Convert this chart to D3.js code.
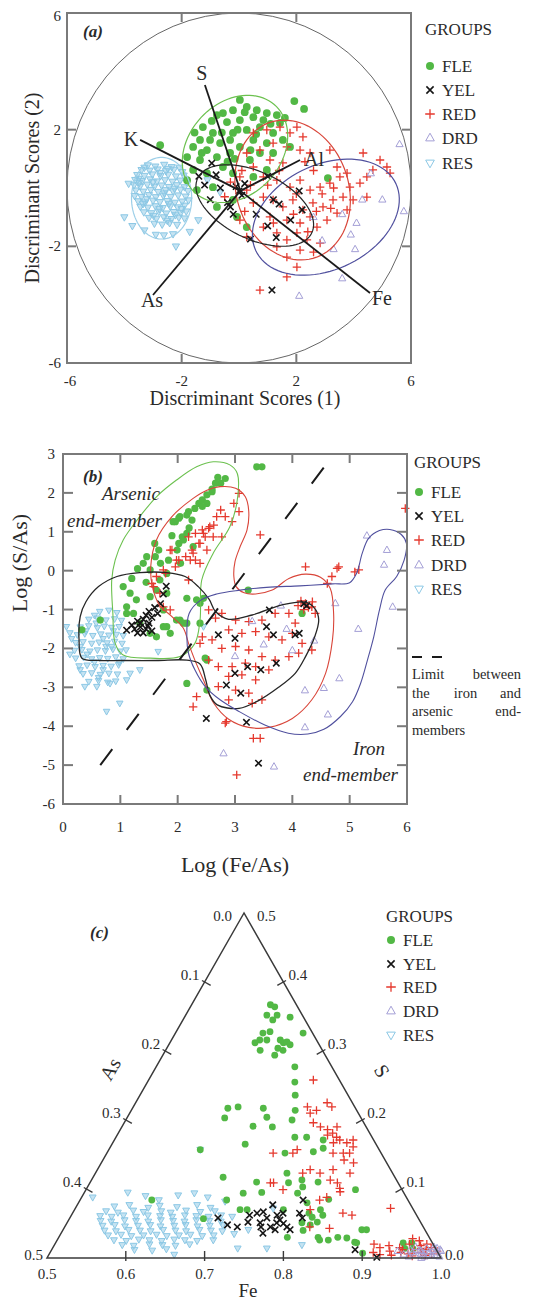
<!DOCTYPE html>
<html><head><meta charset="utf-8">
<script src="https://cdn.jsdelivr.net/npm/d3@7"></script>
<style>
body{margin:0;background:#fff}
svg{display:block}
text{font-family:"Liberation Serif","Times New Roman",serif;fill:#2a2a2a}
</style>
</head><body>
<svg id="fig" width="534" height="1303" font-family="Liberation Serif, Times New Roman, serif"></svg>
<script>
// ---------- groups ----------
const groups = ["FLE", "YEL", "RED", "DRD", "RES"];

// ---------- panel (a): discriminant scores ----------
const aTicks = [-6, -2, 2, 6];
const aRES = [[-3.18,0.78],[-2.92,0.74],[-2.61,0.8],[-2.35,0.72],[-2.08,0.7],
[-3.4,0.62],[-3.12,0.6],[-2.84,0.64],[-2.55,0.58],[-2.27,0.63],[-1.98,0.55],
[-3.55,0.45],[-3.3,0.42],[-3.02,0.47],[-2.74,0.41],[-2.47,0.46],[-2.2,0.4],[-1.93,0.43],
[-3.62,0.28],[-3.38,0.24],[-3.1,0.3],[-2.86,0.23],[-2.58,0.27],[-2.32,0.22],[-2.05,0.26],[-1.82,0.2],
[-3.66,0.1],[-3.45,0.06],[-3.2,0.12],[-2.95,0.05],[-2.7,0.09],[-2.44,0.04],[-2.17,0.1],[-1.9,0.03],
[-3.6,-0.08],[-3.34,-0.12],[-3.08,-0.06],[-2.82,-0.13],[-2.56,-0.07],[-2.3,-0.11],[-2.04,-0.05],[-1.78,-0.1],
[-3.64,-0.27],[-3.4,-0.3],[-3.14,-0.24],[-2.9,-0.31],[-2.64,-0.26],[-2.38,-0.3],[-2.12,-0.25],[-1.86,-0.29],
[-3.52,-0.45],[-3.27,-0.49],[-3.0,-0.43],[-2.76,-0.48],[-2.5,-0.44],[-2.24,-0.5],[-1.98,-0.46],[-1.76,-0.42],
[-3.44,-0.64],[-3.18,-0.67],[-2.92,-0.62],[-2.66,-0.68],[-2.4,-0.63],[-2.14,-0.66],[-1.9,-0.6],
[-3.32,-0.83],[-3.06,-0.86],[-2.8,-0.81],[-2.54,-0.87],[-2.28,-0.82],[-2.03,-0.85],[-1.84,-0.8],
[-3.14,-1.02],[-2.88,-1.05],[-2.62,-1.0],[-2.36,-1.06],[-2.1,-1.01],[-1.9,-1.04],
[-2.95,-1.22],[-2.68,-1.25],[-2.42,-1.2],[-2.16,-1.26],
[-3.3,0.7],[-2.48,0.66],[-3.48,0.18],[-2.25,-0.02],[-3.22,-0.38],[-2.45,-0.55],[-2.98,-0.95],[-2.22,-0.93],
[-2.75,0.52],[-3.0,0.2],[-2.6,-0.18],[-3.35,-0.55],[-2.0,-0.72],[-2.78,-0.72],[-2.5,-1.12],[-3.5,0.32],
[-4.0,-1.0],[-3.72,-1.3],[-2.9,-1.6],[-2.62,-1.62],[-2.3,-1.58],[-2.2,-2.0],[-1.72,-1.5],[-1.42,-1.1],
[-3.85,0.15],[-1.1,0.27],[-0.66,-0.14],[-3.3,-1.45]];
const aFLE = [[1.93,2.98],[2.27,2.71],[-1.26,2.09],[-0.77,2.5],[-0.21,2.67],[0.27,2.78],[0.62,2.67],
[0.97,2.57],[1.32,2.5],[0.5,2.43],[0.03,2.33],[-0.42,2.26],[-0.91,1.89],[-1.36,1.65],[-1.6,1.41],
[-1.12,1.3],[-0.66,1.54],[-0.21,1.89],[0.27,1.99],[0.73,2.09],[1.19,1.89],[1.53,1.65],[0.97,1.54],
[0.5,1.65],[0.03,1.41],[-0.31,1.2],[-0.77,1.06],[-1.36,0.96],[-1.6,0.62],[-1.12,0.51],[-1.81,0.27],
[-1.47,-0.07],[-0.56,0.72],[-0.21,0.51],[0.38,0.96],[0.73,1.2],[1.19,1.2],[0.5,0.38],[0.97,0.62],
[-0.21,-0.41],[0.27,-1.34],[-0.07,-0.99],[-0.77,-0.65],[-2.75,1.47],[3.1,0.34],[-0.56,2.57],
[0.85,2.33],[-0.31,1.65],[-1.01,1.65],[-1.81,1.06],[-0.91,0.03],[1.43,2.23],[0.03,3.02],[1.78,1.41],
[-0.05,2.0],[0.6,1.85],[-0.6,1.9],[1.1,2.2],[-1.3,1.2],[-0.4,0.9],[0.2,2.6],[-0.95,2.3],[1.6,2.4],
[-1.55,1.9],[0.4,1.3],[-0.15,1.0]];
const aRED = [[0.5,1.89],[0.97,1.99],[1.43,2.09],[1.78,1.89],[2.23,1.75],[1.19,1.54],[1.67,1.41],
[2.13,1.3],[0.73,1.3],[0.27,1.2],[1.08,0.96],[1.53,0.86],[2.48,1.2],[0.5,0.72],[0.03,0.38],[0.85,0.38],
[1.32,0.27],[1.78,0.03],[2.13,0.27],[2.48,-0.07],[2.83,0.03],[3.17,0.17],[3.52,0.38],[3.77,0.51],
[3.87,0.03],[3.63,-0.31],[3.28,-0.41],[2.93,-0.65],[2.58,-0.51],[2.23,-0.75],[1.88,-0.41],[1.53,-0.65],
[1.19,-0.41],[0.85,-0.31],[0.5,-0.51],[0.27,-0.07],[1.08,-0.99],[1.67,-1.1],[2.13,-1.2],[2.48,-0.99],
[2.72,-1.34],[2.02,-1.54],[2.37,-1.78],[1.67,-1.78],[1.32,-1.54],[0.85,-1.34],[3.07,-1.1],[3.42,-0.86],
[2.83,-1.89],[2.13,-2.13],[1.67,-2.37],[1.32,-2.02],[2.02,-2.71],[1.67,-3.05],[0.73,-3.5],[0.27,-1.68],
[0.03,-1.1],[4.33,1.2],[4.92,0.96],[5.16,0.72],[4.67,0.62],[4.46,0.38],[5.27,0.51],[4.22,0.17],
[3.98,-0.41],[3.77,-0.75],[4.46,-0.31],[3.17,1.3],[3.42,0.72],[2.02,2.09],[-0.3,0.2],[0.1,0.6],
[-0.5,-0.3],[0.4,0.1],[0.2,-0.8],[2.6,0.6],[2.9,-0.2],[1.9,-0.9],[2.4,-1.5],[1.4,0.6],
[2.3,0.9],[1.2,-1.2],[2.7,-0.8],[3.2,-0.7],[2.0,-0.2],[1.0,0.1],[2.6,-2.2],[3.3,0.0]];
const aYEL = [[-0.95,0.85],[-1.4,0.4],[-1.0,-0.4],[0.0,-0.1],[-0.3,-0.65],[-0.2,-0.9],[0.4,-1.75],
[1.3,-1.7],[1.2,-0.4],[2.1,-0.1],[2.2,-0.75],[1.8,-1.1],[1.0,-1.3],[1.4,-0.55],[1.15,-3.5],[-0.65,0.0],
[1.0,0.4],[-0.1,0.05],[0.1,-0.25],[-0.4,-0.5],[0.2,0.15],[-1.2,0.1],[0.6,-0.9],[-0.8,0.45]];
const aDRD = [[5.6,1.5],[5.0,-0.4],[5.75,-0.8],[4.1,-1.2],[4.05,-2.1],[3.6,-0.9],[4.3,-0.4],[2.1,-3.7],
[4.6,0.5],[2.6,-1.0],[3.6,-3.1],[3.3,-2.1],[3.9,-1.6],[2.9,-1.8]];
// group ellipses: centre, semi-axes and rotation (degrees)
const aEllipseGroup = ["RES", "FLE", "RED", "DRD", "YEL"];
const aEllipseCx = [-2.7, -0.14, 1.87, 3.03, 0.55];
const aEllipseCy = [-0.35, 1.34, -0.07, -1.0, -0.6];
const aEllipseA = [1.05, 2.05, 2.45, 2.7, 2.2];
const aEllipseB = [1.4, 1.6, 1.95, 1.8, 1.15];
const aEllipseRot = [0, 45, -70, 25, -25];
// variable vectors
const aVecOrigin = [0.05, -0.1];
const aVecName = ["S", "K", "Al", "As", "Fe"];
const aVecEnd = [[-1.19, 3.53], [-3.45, 1.65], [2.13, 0.96], [-3.0, -3.67], [4.57, -3.6]];

// ---------- panel (b): log ratios ----------
const bXTicks = [0, 1, 2, 3, 4, 5, 6];
const bYTicks = [3, 2, 1, 0, -1, -2, -3, -4, -5, -6];
const bRES = [[0.64,-1.05],[0.8,-1.02],[0.94,-1.08],
[0.45,-1.25],[0.6,-1.22],[0.75,-1.27],[0.9,-1.24],[1.02,-1.28],
[0.3,-1.45],[0.45,-1.42],[0.6,-1.47],[0.72,-1.43],[0.85,-1.46],[0.98,-1.44],
[0.25,-1.65],[0.38,-1.62],[0.52,-1.67],[0.66,-1.63],[0.8,-1.66],[0.93,-1.64],[1.05,-1.67],
[0.22,-1.85],[0.35,-1.83],[0.5,-1.87],[0.63,-1.84],[0.77,-1.86],[0.9,-1.82],[1.03,-1.87],
[0.2,-2.05],[0.33,-2.03],[0.47,-2.07],[0.6,-2.04],[0.74,-2.06],[0.87,-2.02],[1.0,-2.07],[1.1,-2.04],
[0.22,-2.25],[0.36,-2.23],[0.5,-2.27],[0.64,-2.24],[0.78,-2.26],[0.92,-2.22],[1.05,-2.27],
[0.28,-2.45],[0.42,-2.43],[0.56,-2.47],[0.7,-2.44],[0.84,-2.46],[0.97,-2.42],
[0.35,-2.65],[0.5,-2.63],[0.65,-2.67],[0.8,-2.64],[0.95,-2.66],
[0.45,-2.85],[0.62,-2.83],[0.78,-2.87],[0.92,-2.84],
[0.55,-1.15],[0.4,-1.55],[0.3,-1.95],[0.42,-2.15],[0.55,-2.35],[0.7,-2.55],[0.85,-1.95],[0.7,-1.75],
[0.15,-1.75],[0.12,-2.15],[0.58,-1.35],[0.88,-1.55],[0.98,-2.35],[0.62,-2.75],[0.3,-2.55],[0.75,-1.95],
[0.06,-1.44],[0.12,-1.6],[0.38,-2.98],[0.59,-2.98],[0.82,-2.9],[1.11,-2.81],[1.34,-2.55],[0.99,-3.41],
[0.76,-3.62],[1.17,-2.64],[1.66,-2.08],[2.45,-1.44]];
const bFLE = [[3.38,2.67],[3.47,2.67],[2.83,2.37],[2.75,2.25],[2.66,2.25],[2.6,2.03],[2.51,1.95],
[2.43,1.82],[2.37,1.73],[2.51,1.73],[2.43,1.65],[2.19,1.52],[2.16,1.43],[2.02,1.35],[1.96,1.26],
[2.25,1.3],[2.08,0.87],[2.02,0.7],[1.99,0.53],[1.67,0.53],[1.61,0.36],[1.7,0.19],[1.84,0.27],
[2.05,0.19],[2.04,1.39],[1.92,1.26],[2.16,0.96],[2.1,0.79],[2.27,0.62],[1.46,0.36],[1.4,0.19],
[1.52,0.02],[1.81,-0.07],[1.69,-0.24],[1.63,-0.5],[1.81,-0.58],[1.52,-0.67],[2.16,-0.71],[2.39,-0.84],
[1.75,-1.01],[2.04,-1.27],[1.81,-1.44],[2.16,-1.35],[1.87,-1.61],[2.39,-1.35],[1.11,-1.1],[0.65,-1.27],
[1.05,-0.41],[1.17,-0.58],[1.28,-0.75],[1.11,-0.93],[1.23,-1.1],[1.34,-1.35],[1.52,-1.61],[1.63,-1.7],
[1.75,-1.44],[1.98,-1.27],[2.1,-1.35],[2.33,-0.75],[2.51,-2.3],[2.16,-2.9],[2.51,-3.07],[3.23,-0.5],
[4.17,-1.1],[2.45,-0.71],[2.48,-2.25],[0.33,-1.52],[2.3,1.6],[2.6,2.1],[2.7,2.4],[2.2,1.1],[1.9,0.9],
[1.6,0.7],[1.3,0.05],[1.2,-0.2],[1.45,-0.3]];
const bRED = [[3.07,1.99],[2.98,1.73],[3.07,1.52],[2.75,1.56],[2.83,1.39],[2.95,1.26],[2.63,1.17],
[2.77,0.87],[2.54,1.09],[2.43,1.05],[2.48,0.87],[2.31,0.96],[2.19,0.87],[2.37,0.7],[2.25,0.53],
[2.14,0.36],[2.31,0.27],[2.02,0.27],[1.9,0.53],[1.96,0.1],[2.19,-0.24],[1.79,-0.07],[1.55,-0.33],
[3.44,0.92],[4.23,0.1],[4.78,0.06],[4.61,-0.33],[4.69,-0.15],[2.68,1.39],[2.56,1.13],[2.45,0.96],
[2.62,0.87],[2.39,0.7],[2.51,0.53],[2.27,0.45],[2.22,0.27],[2.39,0.19],[1.98,0.27],[1.87,0.53],
[1.75,0.02],[1.63,-0.15],[1.69,-0.58],[1.75,-0.93],[1.58,-0.41],[1.87,-1.01],[2.39,-1.87],[2.33,-3.24],
[5.97,1.6],[5.09,-0.03],[3.03,-5.25],[3.32,-4.31],[3.44,-4.31],[2.27,-3.5],[2.85,-3.88],
[4.81,0.1],[5.16,0.02],[4.23,-0.84],[4.34,-0.93],[4.4,-1.1],[4.05,-1.35],[4.0,-1.61],[4.17,-1.87],
[4.34,-2.04],[3.94,-1.1],[3.7,-1.1],[3.47,-1.27],[3.24,-1.31],[3.01,-1.27],[2.77,-1.1],[2.66,-1.22],
[2.89,-1.52],[3.12,-1.61],[3.36,-1.57],[3.59,-1.7],[3.82,-1.78],[2.6,-1.78],[2.77,-2.0],[3.01,-1.95],
[3.24,-2.04],[3.47,-2.21],[3.7,-2.3],[3.94,-2.21],[4.11,-2.12],[2.54,-2.3],[2.71,-2.47],[2.95,-2.47],
[3.18,-2.38],[3.36,-2.47],[3.59,-2.55],[2.89,-2.72],[3.12,-2.68],[3.36,-2.81],[2.71,-2.98],[3.01,-3.07],
[3.24,-3.15],[3.47,-3.32],[2.89,-3.32],[3.3,-3.41],[2.83,-3.92],[2.43,-1.7],[2.54,-1.01],
[4.15,-0.78],[4.28,-0.95],[4.2,-1.0],[4.1,-0.9],[4.35,-0.8]];
const bYEL = [[1.3,-1.3],[1.4,-1.25],[1.5,-1.35],[1.35,-1.45],[1.45,-1.5],[1.55,-1.2],[1.25,-1.5],
[1.4,-1.6],[1.5,-1.05],[1.6,-0.95],[1.45,-1.15],[1.3,-1.6],[1.2,-1.4],[1.55,-1.55],[1.65,-1.1],
[1.35,-1.35],[1.48,-1.42],[1.7,-0.85],[1.75,-0.6],[1.8,-0.4],[1.11,-1.53],[2.71,-1.65],[3.0,-1.74],
[3.6,-1.01],[3.55,-1.44],[3.67,-1.65],[4.05,-1.65],[4.12,-1.61],[4.25,-0.9],[3.0,-2.64],[3.22,-2.47],
[3.45,-2.55],[3.72,-2.38],[2.85,-2.94],[3.1,-3.15],[2.5,-3.8],[3.2,-3.9],[3.41,-4.95],[4.2,-0.85]];
const bDRD = [[5.65,0.53],[5.6,0.15],[5.75,-0.93],[5.15,-1.5],[4.82,-2.77],[4.55,-3.02],[4.22,-3.08],
[4.62,-3.7],[4.22,-4.03],[2.8,-4.7],[3.68,-5.04],[4.75,-0.84],[4.38,-1.8],[5.3,0.9],[3.3,-1.3],
[3.9,-1.5],[4.0,-2.05],[3.5,-1.9],[3.0,-2.2],[3.8,-0.9]];
// group contours in (Fe/As, S/As) log space
const bContourFLE = [[0.85,-0.24],[0.87,-1.1],[0.91,-1.87],[1.05,-2.17],[1.52,-2.25],[2.04,-2.21],
[2.3,-1.87],[2.39,-1.27],[2.42,-0.24],[2.62,0.45],[2.91,1.13],[3.04,1.82],[3.04,2.5],[2.91,2.72],
[2.62,2.8],[2.33,2.67],[1.98,2.33],[1.63,1.9],[1.34,1.39],[1.05,0.79],[0.91,0.27]];
const bContourRED = [[2.74,2.16],[3.01,2.12],[3.18,1.9],[3.24,1.52],[3.21,1.05],[3.09,0.62],[3.0,0.23],
[2.98,-0.15],[3.02,-0.41],[3.16,-0.57],[3.36,-0.6],[3.65,-0.5],[3.94,-0.2],[4.23,-0.09],[4.49,-0.17],
[4.66,-0.45],[4.72,-1.1],[4.7,-1.78],[4.58,-2.64],[4.34,-3.32],[4.0,-3.8],[3.59,-4.03],[3.24,-4.03],
[2.89,-3.82],[2.63,-3.41],[2.45,-2.81],[2.3,-2.3],[2.19,-1.87],[2.1,-1.48],[1.9,-1.18],[1.68,-0.88],
[1.56,-0.41],[1.53,0.1],[1.63,0.79],[1.9,1.39],[2.27,1.86],[2.51,2.07]];
const bContourYEL = [[0.3,-1.18],[0.28,-1.78],[0.33,-2.25],[0.65,-2.31],[1.05,-2.31],[1.63,-2.31],
[2.16,-2.3],[2.39,-2.4],[2.49,-2.81],[2.56,-3.2],[2.69,-3.45],[3.07,-3.54],[3.41,-3.34],[3.76,-3.0],
[4.05,-2.64],[4.23,-2.21],[4.39,-1.7],[4.46,-1.27],[4.4,-0.99],[4.23,-0.81],[3.82,-0.88],[3.3,-1.14],
[2.89,-1.25],[2.66,-1.05],[2.55,-0.74],[2.36,-0.41],[2.13,-0.15],[1.81,-0.05],[1.34,-0.05],
[0.94,-0.15],[0.62,-0.41],[0.4,-0.8]];
const bContourDRD = [[2.16,-1.7],[2.2,-1.1],[2.39,-0.77],[2.68,-0.6],[3.09,-0.5],[3.55,-0.43],
[4.13,-0.39],[4.7,-0.34],[5.0,-0.31],[5.12,-0.07],[5.22,0.45],[5.33,0.83],[5.52,1.03],[5.7,1.06],
[5.9,0.93],[5.99,0.7],[5.95,0.27],[5.82,-0.15],[5.62,-0.5],[5.52,-1.01],[5.42,-1.7],[5.31,-2.3],
[5.19,-2.9],[5.05,-3.37],[4.84,-3.75],[4.55,-4.08],[4.27,-4.2],[3.93,-4.18],[3.52,-3.97],[3.07,-3.62],
[2.74,-3.32],[2.48,-2.98],[2.3,-2.55],[2.19,-2.13]];
// limit between the iron and arsenic end-members
const bLimit = [[0.65, -5.0], [4.6, 2.75]];

// ---------- panel (c): Fe-As-S ternary, stored as [Fe, S] (As = 1 - Fe - S) ----------
const cFeTicks = [0.5, 0.6, 0.7, 0.8, 0.9, 1.0];
const cAsTicks = [0.0, 0.1, 0.2, 0.3, 0.4, 0.5];
const cSTicks = [0.5, 0.4, 0.3, 0.2, 0.1, 0.0];
const cRES = [[0.548,0.075],[0.566,0.077],[0.592,0.073],[0.605,0.076],[0.628,0.074],[0.652,0.077],[0.671,0.073],
[0.541,0.068],[0.557,0.066],[0.575,0.069],[0.589,0.067],[0.611,0.068],[0.624,0.066],[0.642,0.069],[0.661,0.067],[0.679,0.068],
[0.537,0.061],[0.552,0.06],[0.566,0.062],[0.583,0.06],[0.597,0.062],[0.613,0.061],[0.629,0.06],[0.644,0.062],[0.659,0.061],[0.675,0.06],[0.69,0.062],
[0.541,0.054],[0.555,0.053],[0.571,0.055],[0.586,0.054],[0.602,0.053],[0.617,0.055],[0.633,0.054],[0.648,0.053],[0.662,0.055],[0.679,0.054],[0.694,0.053],
[0.547,0.047],[0.562,0.048],[0.576,0.046],[0.592,0.047],[0.607,0.048],[0.621,0.046],[0.638,0.047],[0.652,0.048],[0.668,0.046],[0.683,0.047],[0.699,0.048],
[0.553,0.04],[0.568,0.039],[0.583,0.041],[0.598,0.04],[0.612,0.039],[0.627,0.041],[0.643,0.04],[0.657,0.039],[0.673,0.041],[0.688,0.04],[0.703,0.039],
[0.561,0.033],[0.577,0.034],[0.591,0.032],[0.606,0.033],[0.622,0.034],[0.636,0.032],[0.651,0.033],[0.665,0.034],[0.681,0.032],[0.695,0.033],
[0.572,0.026],[0.588,0.025],[0.603,0.027],[0.617,0.026],[0.633,0.025],[0.648,0.027],[0.662,0.026],[0.678,0.025],
[0.586,0.019],[0.601,0.018],[0.62,0.02],[0.637,0.019],[0.654,0.018],[0.671,0.02],
[0.605,0.012],[0.628,0.011],[0.645,0.013],
[0.514,0.088],[0.621,0.091],[0.616,0.157],[0.735,0.014],[0.772,0.014],[0.814,0.019],[0.751,0.072],
[0.735,0.041],[0.698,0.026],[0.659,0.005],[0.555,0.095],[0.58,0.09],[0.64,0.094],[0.66,0.088],
[0.705,0.06],[0.72,0.035],[0.6,0.084],[0.685,0.082]];
const cFLE = [[0.6,0.367],[0.607,0.364],[0.603,0.352],[0.616,0.352],[0.614,0.345],[0.634,0.349],
[0.662,0.326],[0.611,0.326],[0.619,0.328],[0.612,0.316],[0.608,0.312],[0.621,0.316],[0.638,0.316],
[0.644,0.312],[0.648,0.313],[0.654,0.309],[0.641,0.304],[0.649,0.301],[0.62,0.301],[0.642,0.294],
[0.676,0.277],[0.687,0.255],[0.697,0.236],[0.708,0.214],[0.711,0.2],[0.621,0.217],[0.633,0.219],
[0.624,0.203],[0.666,0.217],[0.677,0.204],[0.691,0.19],[0.666,0.191],[0.669,0.165],[0.727,0.175],
[0.742,0.175],[0.726,0.152],[0.761,0.154],[0.765,0.171],[0.771,0.159],[0.665,0.117],[0.711,0.11],
[0.702,0.094],[0.71,0.07],[0.686,0.084],[0.719,0.07],[0.743,0.123],[0.752,0.109],[0.767,0.113],
[0.773,0.103],[0.789,0.11],[0.771,0.094],[0.79,0.08],[0.812,0.07],[0.819,0.062],[0.807,0.059],
[0.817,0.052],[0.81,0.048],[0.829,0.03],[0.844,0.026],[0.854,0.03],[0.866,0.029],[0.879,0.023],
[0.879,0.041],[0.885,0.041],[0.842,0.099],[0.952,0.022],[0.958,0.013],[0.765,0.07],[0.798,0.051],
[0.833,0.026],[0.897,0.007],[0.947,0.014],[0.591,0.084],[0.67,0.057],[0.616,0.157],[0.882,0.022],
[0.941,0.022],[0.8,0.065],[0.805,0.04],[0.79,0.03],[0.815,0.085],[0.725,0.095]];
const cRED = [[0.709,0.258],[0.721,0.219],[0.735,0.214],[0.743,0.225],[0.752,0.219],[0.729,0.21],
[0.74,0.196],[0.752,0.19],[0.763,0.186],[0.772,0.181],[0.773,0.19],[0.78,0.175],[0.786,0.171],
[0.797,0.167],[0.803,0.171],[0.808,0.161],[0.808,0.152],[0.78,0.167],[0.787,0.152],[0.8,0.152],
[0.739,0.157],[0.711,0.152],[0.736,0.152],[0.729,0.109],[0.75,0.099],[0.763,0.123],[0.77,0.128],
[0.785,0.123],[0.803,0.113],[0.799,0.128],[0.814,0.109],[0.824,0.096],[0.811,0.088],[0.82,0.138],
[0.806,0.142],[0.823,0.123],[0.767,0.178],[0.804,0.084],[0.811,0.045],[0.799,0.07],[0.733,0.109],
[0.837,0.043],[0.821,0.101],[0.9,0.072],[0.856,0.062],[0.843,0.065],
[0.905,0.02],[0.91,0.008],[0.915,0.015],[0.92,0.005],[0.925,0.018],[0.93,0.01],[0.935,0.004],
[0.94,0.015],[0.945,0.008],[0.95,0.02],[0.955,0.006],[0.96,0.012],[0.962,0.003],[0.965,0.018],
[0.97,0.008],[0.975,0.012],[0.978,0.004],[0.98,0.015],[0.985,0.006],[0.99,0.01],[0.95,0.028],
[0.96,0.025],[0.945,0.012],[0.968,0.014],[0.972,0.02]];
const cYEL = [[0.688,0.058],[0.705,0.048],[0.719,0.045],[0.726,0.062],[0.734,0.065],[0.741,0.067],
[0.75,0.058],[0.745,0.051],[0.749,0.045],[0.761,0.045],[0.748,0.077],[0.761,0.062],[0.768,0.055],
[0.769,0.041],[0.766,0.051],[0.767,0.065],[0.782,0.045],[0.788,0.065],[0.783,0.084],[0.795,0.058],
[0.788,0.041],[0.885,0.012],[0.918,0.001],[0.729,0.052],[0.756,0.036],[0.775,0.05]];
const cDRD = [[0.94,0.01],[0.95,0.005],[0.955,0.012],[0.96,0.008],[0.965,0.004],[0.97,0.01],
[0.972,0.006],[0.975,0.014],[0.978,0.002],[0.98,0.009],[0.982,0.005],[0.985,0.012],[0.987,0.003],
[0.99,0.008],[0.992,0.004],[0.995,0.01],[0.997,0.002],[0.983,0.016],[0.975,0.0],[0.96,0.016],
[0.968,0.011],[0.988,0.014],[0.993,0.012],[0.958,0.002]];

// ---------- styles ----------
const color = {FLE: "#52b845", YEL: "#151515", RED: "#e5392e", DRD: "#a49fd6", RES: "#8cc8e5"};
const lineColor = {FLE: "#6cc14f", YEL: "#262626", RED: "#d9463a", DRD: "#50509e", RES: "#9ccfe8"};
const frameColor = "#7a7a7a";

function markPath(group, s) {
  if (group === "FLE") return d3.symbol(d3.symbolCircle, Math.PI * s * s)();
  if (group === "YEL") return `M${-s},${-s}L${s},${s}M${-s},${s}L${s},${-s}`;
  if (group === "RED") return `M${-s},0H${s}M0,${-s}V${s}`;
  if (group === "DRD") return `M0,${-s}L${s * 0.9},${s * 0.6}L${-s * 0.9},${s * 0.6}Z`;
  return `M0,${s}L${s * 0.9},${-s * 0.6}L${-s * 0.9},${-s * 0.6}Z`;
}
function styleMark(sel, group, filled) {
  if (group === "FLE") return sel.attr("fill", color.FLE).attr("stroke", "none");
  sel.attr("fill", "none").attr("stroke", color[group])
    .attr("stroke-width", group === "YEL" ? 1.6 : group === "RED" ? 1.3 : 1);
  // dense residue clouds read as a light wash
  if (group === "RES" && filled) sel.attr("fill", color.RES).attr("fill-opacity", 0.5);
  return sel;
}
const markSize = {FLE: 3.6, YEL: 3.2, RED: 4.2, DRD: 4, RES: 3.8};

function drawPoints(g, data, group, px, py, scale = 1) {
  const sel = g.append("g").selectAll("path").data(data).join("path")
    .attr("transform", d => `translate(${px(d)},${py(d)})`)
    .attr("d", markPath(group, markSize[group] * scale));
  styleMark(sel, group, true);
}

function legend(g, x, yTitle, yItems) {
  g.append("text").attr("x", x).attr("y", yTitle).attr("font-size", 17).text("GROUPS");
  groups.forEach((grp, i) => {
    const yy = yItems[i];
    const m = g.append("path").attr("transform", `translate(${x + 5},${yy})`)
      .attr("d", markPath(grp, grp === "FLE" ? 4 : grp === "YEL" ? 3.6 : 4.8));
    styleMark(m, grp, false);
    g.append("text").attr("x", x + 17).attr("y", yy + 5.5).attr("font-size", 17).text(grp);
  });
}

const svg = d3.select("#fig");

// ================= panel (a) =================
{
  const g = svg.append("g");
  const x = d3.scaleLinear().domain([-6, 6]).range([67, 411]);
  const y = d3.scaleLinear().domain([-6, 6]).range([363, 13]);

  // circle of radius 6
  g.append("ellipse").attr("cx", x(0)).attr("cy", y(0))
    .attr("rx", x(6) - x(0)).attr("ry", y(0) - y(6))
    .attr("fill", "none").attr("stroke", "#555").attr("stroke-width", 0.9);

  const px = d => x(d[0]), py = d => y(d[1]);
  drawPoints(g, aRES, "RES", px, py, 1.05);
  drawPoints(g, aFLE, "FLE", px, py, 1.08);
  drawPoints(g, aRED, "RED", px, py);
  drawPoints(g, aDRD, "DRD", px, py);
  drawPoints(g, aYEL, "YEL", px, py);

  // group ellipses
  const line = d3.line().x(p => x(p[0])).y(p => y(p[1])).curve(d3.curveLinearClosed);
  aEllipseGroup.forEach((grp, i) => {
    const th = aEllipseRot[i] * Math.PI / 180;
    const pts = d3.range(0, 360, 4).map(deg => {
      const t = deg * Math.PI / 180;
      const ex = aEllipseA[i] * Math.cos(t), ey = aEllipseB[i] * Math.sin(t);
      return [aEllipseCx[i] + ex * Math.cos(th) - ey * Math.sin(th),
              aEllipseCy[i] + ex * Math.sin(th) + ey * Math.cos(th)];
    });
    g.append("path").attr("d", line(pts)).attr("fill", "none")
      .attr("stroke", lineColor[grp]).attr("stroke-width", 1.2);
  });

  // variable vectors
  aVecName.forEach((name, i) => {
    g.append("line").attr("x1", x(aVecOrigin[0])).attr("y1", y(aVecOrigin[1]))
      .attr("x2", x(aVecEnd[i][0])).attr("y2", y(aVecEnd[i][1]))
      .attr("stroke", "#1a1a1a").attr("stroke-width", 1.8);
  });
  const vecLabelPos = {S: [-3, -5, "middle"], K: [-2, 6, "end"], Al: [4, 6, "start"], As: [-1, 12, "middle"], Fe: [12, 12, "middle"]};
  aVecName.forEach((name, i) => {
    const o = vecLabelPos[name];
    g.append("text").attr("x", x(aVecEnd[i][0]) + o[0]).attr("y", y(aVecEnd[i][1]) + o[1])
      .attr("text-anchor", o[2]).attr("font-size", 20).text(name);
  });

  // frame and ticks
  g.append("rect").attr("x", x(-6)).attr("y", y(6)).attr("width", x(6) - x(-6)).attr("height", y(-6) - y(6))
    .attr("fill", "none").attr("stroke", frameColor).attr("stroke-width", 2);
  [-2, 2].forEach(v => {
    g.append("line").attr("x1", x(v)).attr("x2", x(v)).attr("y1", y(-6)).attr("y2", y(-6) - 9).attr("stroke", frameColor).attr("stroke-width", 2);
    g.append("line").attr("x1", x(v)).attr("x2", x(v)).attr("y1", y(6)).attr("y2", y(6) + 9).attr("stroke", frameColor).attr("stroke-width", 2);
    g.append("line").attr("y1", y(v)).attr("y2", y(v)).attr("x1", x(-6)).attr("x2", x(-6) + 9).attr("stroke", frameColor).attr("stroke-width", 2);
    g.append("line").attr("y1", y(v)).attr("y2", y(v)).attr("x1", x(6)).attr("x2", x(6) - 9).attr("stroke", frameColor).attr("stroke-width", 2);
  });
  aTicks.forEach(v => {
    g.append("text").attr("x", x(v) + (v === -6 ? 3 : 0)).attr("y", 386).attr("text-anchor", "middle").attr("font-size", 15).text(v);
    g.append("text").attr("x", 61).attr("y", y(v) + 5 + (v === 6 ? 3 : 0)).attr("text-anchor", "end").attr("font-size", 15).text(v);
  });
  g.append("text").attr("x", 245).attr("y", 405).attr("text-anchor", "middle").attr("font-size", 20).text("Discriminant Scores (1)");
  g.append("text").attr("transform", "translate(39,188) rotate(-90)").attr("text-anchor", "middle").attr("font-size", 20).text("Discriminant Scores (2)");
  g.append("text").attr("x", 83).attr("y", 37).attr("font-size", 17).attr("font-weight", "bold").attr("font-style", "italic").text("(a)");

  legend(g, 425, 35, [66, 90, 114, 138, 163]);
}

// ================= panel (b) =================
{
  const g = svg.append("g");
  const x = d3.scaleLinear().domain([0, 6]).range([63, 407]);
  const y = d3.scaleLinear().domain([-6, 3]).range([804, 454]);
  const px = d => x(d[0]), py = d => y(d[1]);

  drawPoints(g, bRES, "RES", px, py, 0.95);
  drawPoints(g, bFLE, "FLE", px, py);
  drawPoints(g, bRED, "RED", px, py);
  drawPoints(g, bDRD, "DRD", px, py);
  drawPoints(g, bYEL, "YEL", px, py);

  const line = d3.line().x(p => x(p[0])).y(p => y(p[1])).curve(d3.curveCatmullRomClosed.alpha(0.5));
  [["FLE", bContourFLE], ["RED", bContourRED], ["YEL", bContourYEL], ["DRD", bContourDRD]].forEach(([grp, pts]) => {
    g.append("path").attr("d", line(pts)).attr("fill", "none")
      .attr("stroke", lineColor[grp]).attr("stroke-width", grp === "YEL" ? 1.3 : 1.1);
  });

  g.append("line").attr("x1", x(bLimit[0][0])).attr("y1", y(bLimit[0][1]))
    .attr("x2", x(bLimit[1][0])).attr("y2", y(bLimit[1][1]))
    .attr("stroke", "#1a1a1a").attr("stroke-width", 2).attr("stroke-dasharray", "20,24");

  g.append("rect").attr("x", x(0)).attr("y", y(3)).attr("width", x(6) - x(0)).attr("height", y(-6) - y(3))
    .attr("fill", "none").attr("stroke", frameColor).attr("stroke-width", 2);
  bXTicks.forEach(v => {
    if (v > 0 && v < 6) {
      g.append("line").attr("x1", x(v)).attr("x2", x(v)).attr("y1", y(-6)).attr("y2", y(-6) - 9).attr("stroke", frameColor).attr("stroke-width", 2);
      g.append("line").attr("x1", x(v)).attr("x2", x(v)).attr("y1", y(3)).attr("y2", y(3) + 9).attr("stroke", frameColor).attr("stroke-width", 2);
    }
    g.append("text").attr("x", x(v)).attr("y", 832).attr("text-anchor", "middle").attr("font-size", 15).text(v);
  });
  bYTicks.forEach(v => {
    if (v > -6 && v < 3) {
      g.append("line").attr("y1", y(v)).attr("y2", y(v)).attr("x1", x(0)).attr("x2", x(0) + 10).attr("stroke", frameColor).attr("stroke-width", 2);
      g.append("line").attr("y1", y(v)).attr("y2", y(v)).attr("x1", x(6)).attr("x2", x(6) - 10).attr("stroke", frameColor).attr("stroke-width", 2);
    }
    g.append("text").attr("x", 55).attr("y", y(v) + 5).attr("text-anchor", "end").attr("font-size", 15).text(v);
  });
  g.append("text").attr("x", 235).attr("y", 872).attr("text-anchor", "middle").attr("font-size", 22).text("Log (Fe/As)");
  g.append("text").attr("transform", "translate(27,563) rotate(-90)").attr("text-anchor", "middle").attr("font-size", 22).text("Log (S/As)");
  g.append("text").attr("x", 83).attr("y", 482).attr("font-size", 17).attr("font-weight", "bold").attr("font-style", "italic").text("(b)");
  g.append("text").attr("x", 131).attr("y", 500).attr("text-anchor", "middle").attr("font-size", 19).attr("font-style", "italic").text("Arsenic");
  g.append("text").attr("x", 67).attr("y", 527).attr("font-size", 19).attr("font-style", "italic").text("end-member");
  g.append("text").attr("x", 369).attr("y", 755).attr("text-anchor", "middle").attr("font-size", 19).attr("font-style", "italic").text("Iron");
  g.append("text").attr("x", 398).attr("y", 781).attr("text-anchor", "end").attr("font-size", 19).attr("font-style", "italic").text("end-member");

  legend(g, 414, 468, [492, 516, 540, 565, 589]);

  // dashed-line key with justified caption
  g.append("line").attr("x1", 412).attr("x2", 444).attr("y1", 657).attr("y2", 657)
    .attr("stroke", "#1a1a1a").attr("stroke-width", 2).attr("stroke-dasharray", "10,10");
  const capLines = [["Limit", "between"], ["the", "iron", "and"], ["arsenic", "end-"], ["members"]];
  const capL = 412, capR = 521;
  capLines.forEach((words, i) => {
    const yy = 679 + i * 18.5;
    if (words.length === 1) {
      g.append("text").attr("x", capL).attr("y", yy).attr("font-size", 14.5).text(words[0]);
      return;
    }
    words.forEach((w, j) => {
      const anchor = j === 0 ? "start" : j === words.length - 1 ? "end" : "middle";
      const xx = j === 0 ? capL : j === words.length - 1 ? capR : capL + (capR - capL) * 0.5 - 1;
      g.append("text").attr("x", xx).attr("y", yy).attr("text-anchor", anchor).attr("font-size", 14.5).text(w);
    });
  });
}

// ================= panel (c) =================
{
  const g = svg.append("g");
  const feX = d3.scaleLinear().domain([0.5, 1]).range([47, 441]);
  const sShift = d3.scaleLinear().domain([0, 0.5]).range([0, 197]);
  const sY = d3.scaleLinear().domain([0, 0.5]).range([1258, 913]);
  const proj = (fe, s) => [feX(fe) + sShift(s), sY(s)];

  const T = proj(0.5, 0.5), BL = proj(0.5, 0), BR = proj(1, 0);
  const px = d => proj(d[0], d[1])[0], py = d => proj(d[0], d[1])[1];

  drawPoints(g, cRES, "RES", px, py, 1.0);
  drawPoints(g, cFLE, "FLE", px, py, 0.95);
  drawPoints(g, cRED, "RED", px, py);
  drawPoints(g, cYEL, "YEL", px, py);
  drawPoints(g, cDRD, "DRD", px, py);

  g.append("path").attr("d", `M${T}L${BL}L${BR}Z`).attr("fill", "none")
    .attr("stroke", "#3a3a3a").attr("stroke-width", 1.5);

  const tick = (p, dx, dy) => g.append("line")
    .attr("x1", p[0] - dx * 3).attr("y1", p[1] - dy * 3)
    .attr("x2", p[0] + dx * 7).attr("y2", p[1] + dy * 7)
    .attr("stroke", "#3a3a3a").attr("stroke-width", 1.4);

  // Fe along the base
  cFeTicks.forEach(v => {
    const p = proj(v, 0);
    if (v > 0.5 && v < 1) tick(p, 0, -1);
    g.append("text").attr("x", p[0]).attr("y", 1279).attr("text-anchor", "middle").attr("font-size", 15).text(v.toFixed(1));
  });
  // As along the left edge (Fe = 0.5)
  cAsTicks.forEach(v => {
    const p = proj(0.5, 0.5 - v);
    if (v > 0 && v < 0.5) tick(p, 0.868, 0.496);
    const off = v === 0 ? [-12, 8] : v === 0.5 ? [-4, 2] : [-5, -2];
    g.append("text").attr("x", p[0] + off[0]).attr("y", p[1] + off[1]).attr("text-anchor", "end").attr("font-size", 15).text(v.toFixed(1));
  });
  // S along the right edge (As = 0)
  cSTicks.forEach(v => {
    const p = proj(1 - v, v);
    if (v > 0 && v < 0.5) tick(p, -0.868, 0.496);
    const off = v === 0.5 ? [13, 8] : v === 0 ? [4, 2] : [5, -2];
    g.append("text").attr("x", p[0] + off[0]).attr("y", p[1] + off[1]).attr("text-anchor", "start").attr("font-size", 15).text(v.toFixed(1));
  });

  g.append("text").attr("x", 248).attr("y", 1297).attr("text-anchor", "middle").attr("font-size", 19).text("Fe");
  g.append("text").attr("transform", "translate(112,1070) rotate(-60)").attr("text-anchor", "middle").attr("dominant-baseline", "middle").attr("font-size", 20).text("As");
  g.append("text").attr("transform", "translate(380,1072) rotate(60)").attr("text-anchor", "middle").attr("dominant-baseline", "middle").attr("font-size", 20).text("S");
  g.append("text").attr("x", 90).attr("y", 938).attr("font-size", 17).attr("font-weight", "bold").attr("font-style", "italic").text("(c)");

  legend(g, 386, 922, [940, 964, 987, 1011, 1035]);
}
</script>
</body></html>
